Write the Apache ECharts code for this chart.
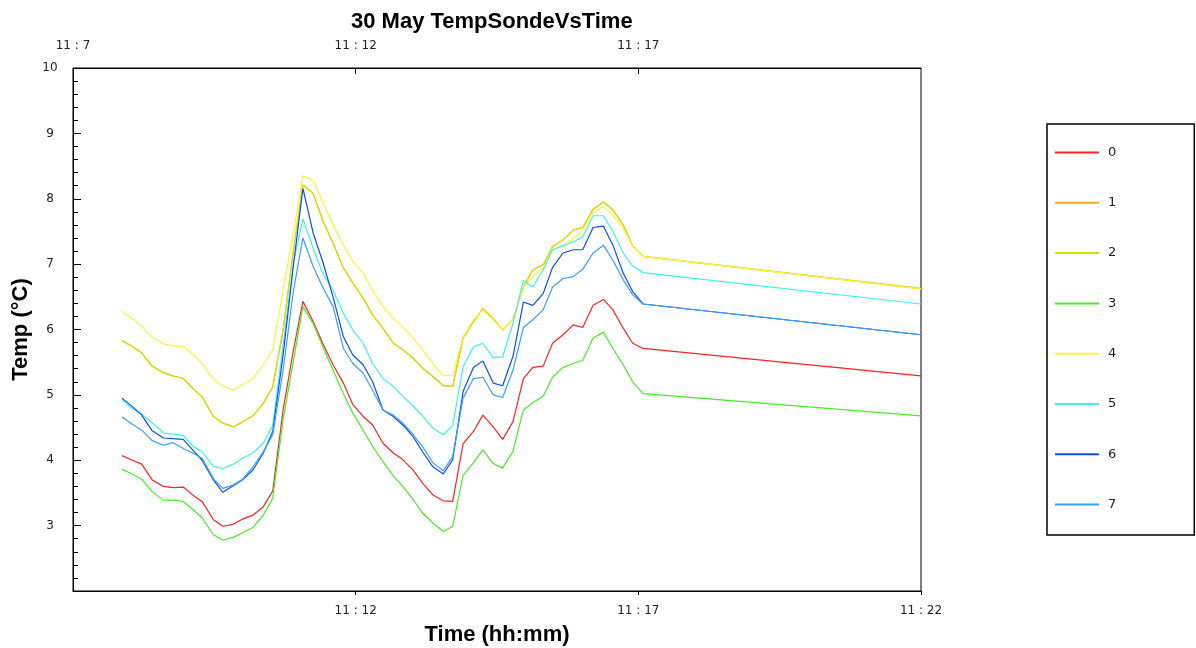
<!DOCTYPE html>
<html>
<head>
<meta charset="utf-8">
<script src="https://cdn.jsdelivr.net/npm/echarts/dist/echarts.min.js"></script>
<style>
  html, body { margin: 0; padding: 0; background: #fff; }
  #chart { width: 1196px; height: 648px; }
</style>
</head>
<body>
<div id="chart"></div>
<script>
// sample times (hh:mm:ss)
const times = [
  '11:07:52', '11:08:03', '11:08:13', '11:08:24', '11:08:36', '11:08:46', '11:08:57', '11:09:07', '11:09:17', '11:09:29',
  '11:09:39', '11:09:50', '11:10:00', '11:10:11', '11:10:22', '11:10:32', '11:10:43', '11:10:54', '11:11:04', '11:11:15',
  '11:11:25', '11:11:36', '11:11:47', '11:11:57', '11:12:08', '11:12:18', '11:12:29', '11:12:40', '11:12:50', '11:13:01',
  '11:13:11', '11:13:22', '11:13:33', '11:13:43', '11:13:54', '11:14:05', '11:14:15', '11:14:26', '11:14:36', '11:14:47',
  '11:14:58', '11:15:08', '11:15:19', '11:15:29', '11:15:40', '11:15:51', '11:16:01', '11:16:12', '11:16:23', '11:16:33',
  '11:16:44', '11:16:54', '11:17:05', '11:22:00'
]

const sondeNames = ['0', '1', '2', '3', '4', '5', '6', '7']

const temp0 = [
  4.07, 4.00, 3.94, 3.70, 3.60, 3.58, 3.59, 3.47, 3.37, 3.09,
  2.99, 3.02, 3.10, 3.16, 3.29, 3.53, 4.77, 5.69, 6.43, 6.12,
  5.79, 5.46, 5.18, 4.85, 4.67, 4.54, 4.26, 4.11, 4.01, 3.85,
  3.65, 3.47, 3.38, 3.37, 4.25, 4.44, 4.69, 4.51, 4.32, 4.59,
  5.25, 5.42, 5.44, 5.79, 5.92, 6.07, 6.03, 6.37, 6.46, 6.30,
  6.02, 5.79, 5.71, 5.29
]
const temp1 = [
  5.83, 5.74, 5.64, 5.44, 5.34, 5.29, 5.25, 5.10, 4.97, 4.67,
  4.57, 4.51, 4.59, 4.68, 4.87, 5.12, 5.99, 7.22, 8.21, 8.08,
  7.67, 7.32, 6.94, 6.71, 6.48, 6.22, 6.02, 5.79, 5.69, 5.56,
  5.41, 5.28, 5.14, 5.13, 5.87, 6.12, 6.32, 6.17, 5.99, 6.16,
  6.65, 6.91, 6.99, 7.27, 7.37, 7.52, 7.56, 7.84, 7.95, 7.83,
  7.60, 7.28, 7.12, 6.63
]
const temp2 = [
  5.83, 5.74, 5.64, 5.44, 5.34, 5.29, 5.25, 5.10, 4.97, 4.67,
  4.57, 4.51, 4.59, 4.68, 4.87, 5.12, 5.99, 7.22, 8.21, 8.08,
  7.67, 7.32, 6.94, 6.71, 6.48, 6.22, 6.02, 5.79, 5.69, 5.56,
  5.41, 5.28, 5.14, 5.13, 5.87, 6.12, 6.32, 6.17, 5.99, 6.16,
  6.65, 6.91, 6.99, 7.27, 7.37, 7.52, 7.56, 7.84, 7.95, 7.83,
  7.60, 7.28, 7.12, 6.62
]
const temp3 = [
  3.86, 3.79, 3.71, 3.52, 3.39, 3.39, 3.37, 3.25, 3.12, 2.86,
  2.78, 2.82, 2.89, 2.97, 3.16, 3.42, 4.62, 5.53, 6.35, 6.09,
  5.74, 5.38, 5.02, 4.72, 4.46, 4.21, 3.98, 3.76, 3.60, 3.40,
  3.19, 3.04, 2.91, 2.99, 3.77, 3.96, 4.16, 3.95, 3.88, 4.14,
  4.77, 4.88, 4.98, 5.27, 5.42, 5.48, 5.53, 5.87, 5.96, 5.71,
  5.46, 5.20, 5.02, 4.68
]
const temp4 = [
  6.28, 6.17, 6.05, 5.88, 5.78, 5.75, 5.74, 5.63, 5.48, 5.24,
  5.14, 5.07, 5.16, 5.25, 5.46, 5.69, 6.60, 7.49, 8.35, 8.28,
  7.95, 7.60, 7.29, 7.04, 6.86, 6.60, 6.35, 6.17, 6.04, 5.87,
  5.69, 5.48, 5.29, 5.30, 5.89, 6.15, 6.30, 6.15, 5.99, 6.16,
  6.65, 6.81, 6.94, 7.22, 7.29, 7.39, 7.51, 7.79, 7.88, 7.75,
  7.55, 7.27, 7.12, 6.62
]
const temp5 = [
  4.93, 4.79, 4.71, 4.57, 4.42, 4.40, 4.38, 4.22, 4.13, 3.91,
  3.87, 3.94, 4.03, 4.11, 4.26, 4.53, 5.76, 7.03, 7.69, 7.24,
  6.86, 6.60, 6.25, 5.99, 5.79, 5.48, 5.25, 5.13, 4.98, 4.83,
  4.68, 4.49, 4.39, 4.53, 5.43, 5.73, 5.79, 5.57, 5.58, 6.10,
  6.75, 6.65, 6.91, 7.22, 7.28, 7.34, 7.42, 7.74, 7.74, 7.50,
  7.17, 6.97, 6.87, 6.39
]
const temp6 = [
  4.95, 4.82, 4.69, 4.45, 4.34, 4.33, 4.32, 4.16, 4.00, 3.70,
  3.51, 3.61, 3.70, 3.85, 4.11, 4.44, 5.61, 6.99, 8.16, 7.47,
  7.04, 6.50, 5.89, 5.61, 5.46, 5.20, 4.77, 4.67, 4.54, 4.36,
  4.13, 3.90, 3.79, 4.01, 5.05, 5.42, 5.52, 5.18, 5.14, 5.59,
  6.42, 6.37, 6.55, 6.95, 7.17, 7.22, 7.22, 7.56, 7.58, 7.29,
  6.86, 6.58, 6.39, 5.92
]
const temp7 = [
  4.66, 4.55, 4.46, 4.30, 4.23, 4.27, 4.18, 4.11, 4.03, 3.72,
  3.57, 3.62, 3.71, 3.90, 4.13, 4.39, 5.38, 6.60, 7.40, 6.96,
  6.65, 6.35, 5.71, 5.48, 5.33, 5.07, 4.77, 4.69, 4.57, 4.39,
  4.21, 3.96, 3.84, 4.06, 4.95, 5.25, 5.27, 5.00, 4.96, 5.38,
  6.03, 6.15, 6.30, 6.65, 6.78, 6.81, 6.92, 7.17, 7.29, 7.06,
  6.76, 6.53, 6.39, 5.92
]

const temps = [temp0, temp1, temp2, temp3, temp4, temp5, temp6, temp7]
const colors = ['#ff2222', '#ffa726', '#d4e000', '#44ee22', '#fff03c', '#3cf0f0', '#0a50e6', '#35a0ff']

// seconds since 11:07:00
const toSec = (t) => {
  const [h, m, s] = t.split(':').map(Number)
  return h * 3600 + m * 60 + s - (11 * 3600 + 7 * 60)
}
const fmtTime = (v) => '11 : ' + (7 + Math.round(v / 60))

const chart = echarts.init(document.getElementById('chart'))

const labelFont = { color: '#222', fontSize: 12, fontFamily: 'DejaVu Sans' }
const nameFont = { color: '#000', fontSize: 22, fontWeight: 'bold', fontFamily: 'Liberation Sans' }

chart.setOption({
  animation: false,
  title: {
    text: '30 May TempSondeVsTime',
    left: 346,
    top: 6,
    textStyle: nameFont
  },
  grid: {
    left: 73,
    right: 275,
    top: 68,
    bottom: 57,
    outerBoundsMode: 'none',
    show: true,
    borderColor: '#000',
    borderWidth: 1
  },
  legend: {
    orient: 'vertical',
    left: 1047,
    top: 124,
    padding: [22, 78, 24, 8],
    itemGap: 37.3,
    itemWidth: 44,
    itemHeight: 2,
    icon: 'rect',
    borderColor: '#000',
    borderWidth: 1.5,
    data: sondeNames,
    textStyle: { color: '#222', fontSize: 13, fontFamily: 'DejaVu Sans', padding: [0, 0, 0, 4] }
  },
  xAxis: [
    {
      type: 'value',
      position: 'bottom',
      min: 0,
      max: 900,
      interval: 300,
      name: 'Time (hh:mm)',
      nameLocation: 'middle',
      nameGap: 33,
      nameTextStyle: nameFont,
      axisLine: { lineStyle: { color: '#000' } },
      axisTick: { inside: false, length: 4, lineStyle: { color: '#000' } },
      axisLabel: Object.assign({ margin: 14, showMinLabel: false, formatter: fmtTime }, labelFont),
      splitLine: { show: false }
    },
    {
      type: 'value',
      position: 'top',
      min: 0,
      max: 900,
      interval: 300,
      axisLine: { lineStyle: { color: '#000' } },
      axisTick: { inside: true, length: 6, lineStyle: { color: '#000' } },
      axisLabel: Object.assign({ margin: 16, showMaxLabel: false, formatter: fmtTime }, labelFont),
      splitLine: { show: false }
    }
  ],
  yAxis: {
    type: 'value',
    min: 2,
    max: 10,
    interval: 1,
    name: 'Temp (°C)',
    nameLocation: 'middle',
    nameGap: 32,
    nameTextStyle: nameFont,
    axisLine: { show: true, lineStyle: { color: '#000' } },
    axisTick: { show: true, inside: true, length: 8, lineStyle: { color: '#000' } },
    minorTick: { show: true, splitNumber: 5, length: 5, lineStyle: { color: '#000' } },
    axisLabel: Object.assign({ margin: 23, align: 'center', showMinLabel: false }, labelFont),
    splitLine: { show: false }
  },
  series: temps.map((arr, i) => ({
    name: sondeNames[i],
    type: 'line',
    symbol: 'none',
    color: colors[i],
    lineStyle: { width: 1.2, color: colors[i] },
    data: arr.map((v, j) => [toSec(times[j]), v])
  }))
})
</script>
</body>
</html>
